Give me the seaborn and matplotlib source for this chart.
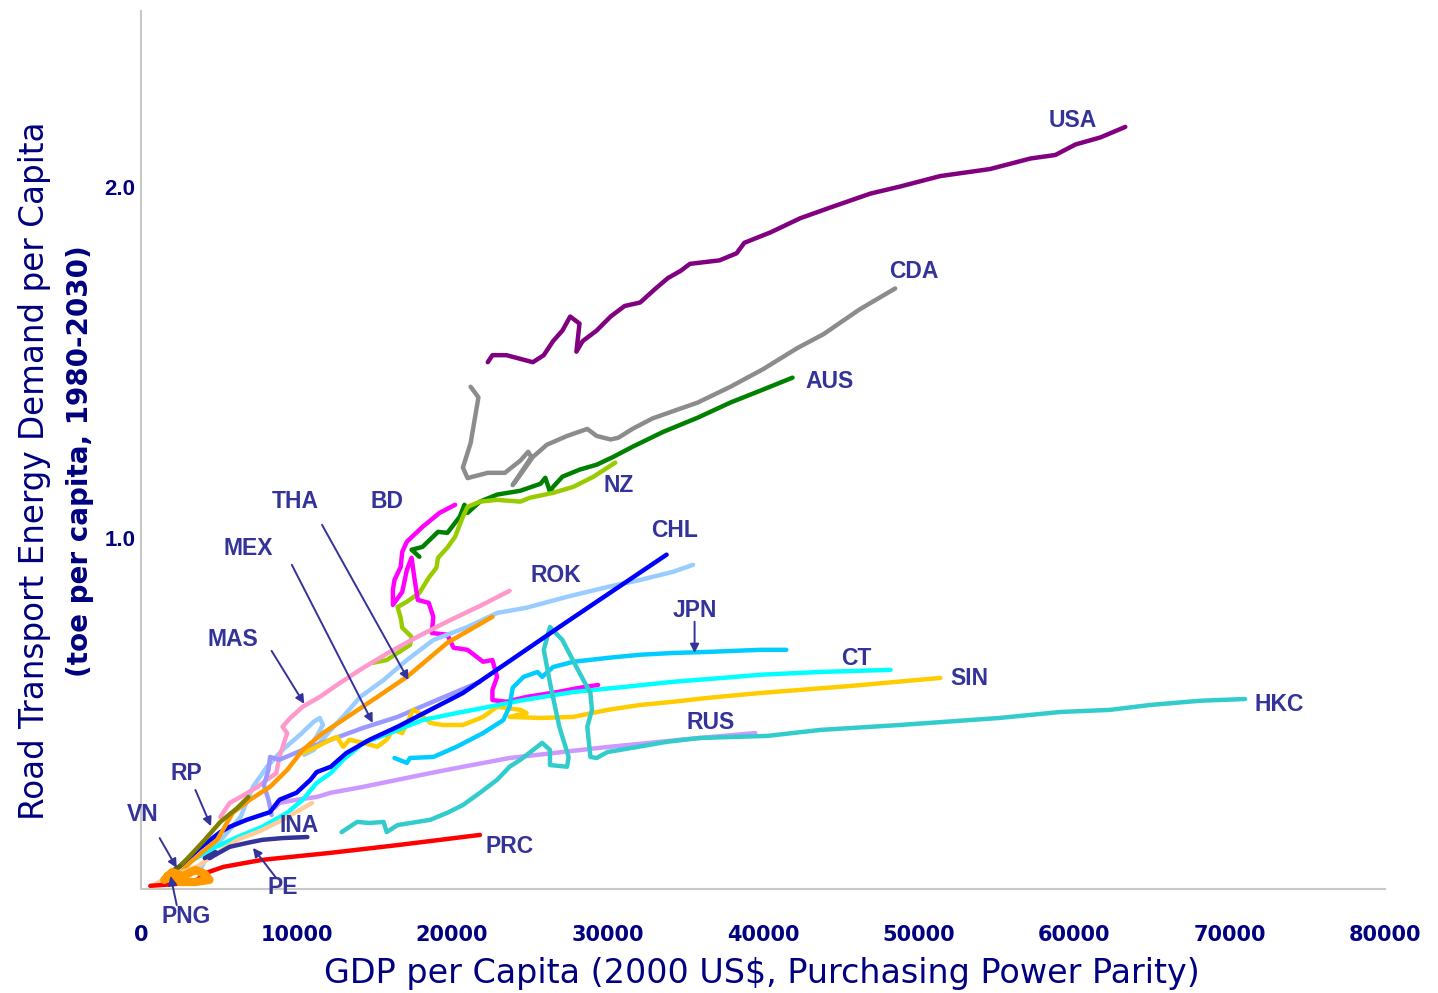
import numpy as np
import pandas as pd
import matplotlib
matplotlib.use("Agg")
import matplotlib.pyplot as plt
import seaborn as sns
from matplotlib import font_manager

# GDP per capita (2000 US$ PPP) and road transport energy demand (toe per capita)
usa_gdp = [22300, 22600, 23500, 25200, 25900, 26500, 27100, 27600, 28200, 28000, 28400, 29300, 30200, 31100, 32100, 33100, 33900, 34700, 35300, 37200, 38300, 38800, 40500, 42400, 44300, 46900, 48800, 51400, 54600, 57200, 58800, 60100, 61700, 63300]
usa_dem = [1.50, 1.52, 1.52, 1.50, 1.52, 1.56, 1.59, 1.63, 1.61, 1.53, 1.56, 1.59, 1.63, 1.66, 1.67, 1.71, 1.74, 1.76, 1.78, 1.79, 1.81, 1.84, 1.87, 1.91, 1.94, 1.98, 2.00, 2.03, 2.05, 2.08, 2.09, 2.12, 2.14, 2.17]

cda_gdp = [21200, 21700, 21200, 20700, 21000, 22300, 23400, 24400, 24900, 25100, 23900, 24400, 25200, 26100, 27400, 28700, 29300, 30200, 30700, 31600, 32900, 34500, 35800, 37900, 40000, 42200, 43900, 46200, 48500]
cda_dem = [1.43, 1.40, 1.27, 1.20, 1.17, 1.185, 1.185, 1.22, 1.245, 1.23, 1.15, 1.18, 1.23, 1.265, 1.29, 1.31, 1.29, 1.28, 1.285, 1.31, 1.34, 1.365, 1.385, 1.43, 1.48, 1.54, 1.58, 1.65, 1.71]

aus_gdp = [17900, 17400, 18100, 19100, 19700, 20500, 20800, 21000, 21800, 22900, 24400, 25700, 26000, 26300, 26500, 27100, 28200, 29300, 30400, 31600, 33600, 35800, 37900, 40000, 41900]
aus_dem = [0.946, 0.966, 0.974, 1.017, 1.014, 1.06, 1.094, 1.071, 1.103, 1.123, 1.134, 1.154, 1.171, 1.131, 1.145, 1.174, 1.194, 1.208, 1.231, 1.259, 1.302, 1.342, 1.385, 1.422, 1.456]

nz_gdp = [14900, 15800, 16500, 17300, 17400, 16800, 16700, 16500, 17100, 17900, 18500, 19000, 19100, 19700, 20200, 20700, 21000, 21800, 22900, 24400, 25000, 26500, 27800, 29100, 30500]
nz_dem = [0.644, 0.652, 0.672, 0.695, 0.718, 0.744, 0.772, 0.803, 0.818, 0.843, 0.886, 0.915, 0.943, 0.972, 1.003, 1.06, 1.088, 1.103, 1.108, 1.103, 1.114, 1.128, 1.145, 1.174, 1.214]

bd_gdp = [20200, 19200, 18100, 17100, 16800, 16700, 16300, 16200, 16200, 16800, 17100, 17400, 17600, 17800, 18500, 18800, 18700, 19700, 20100, 21000, 22000, 22600, 22900, 22600, 22600, 23500, 24800, 26800, 28200, 29400]
bd_dem = [1.094, 1.071, 1.031, 0.989, 0.960, 0.917, 0.880, 0.852, 0.809, 0.846, 0.909, 0.943, 0.880, 0.823, 0.815, 0.775, 0.729, 0.724, 0.687, 0.681, 0.647, 0.652, 0.604, 0.567, 0.538, 0.533, 0.547, 0.561, 0.573, 0.581]

rok_gdp = [3800, 3900, 4400, 5300, 6400, 7200, 8100, 9100, 10200, 11100, 11500, 11700, 11100, 10500, 11100, 12200, 13100, 14100, 15600, 17100, 18800, 21000, 22900, 24800, 27400, 30000, 32100, 34200, 35500]
rok_dem = [0.026, 0.063, 0.103, 0.148, 0.205, 0.291, 0.348, 0.396, 0.438, 0.476, 0.487, 0.467, 0.419, 0.382, 0.396, 0.453, 0.496, 0.547, 0.595, 0.652, 0.709, 0.746, 0.786, 0.801, 0.832, 0.860, 0.880, 0.903, 0.923]

mas_gdp = [5100, 5700, 6400, 7500, 8100, 8700, 8900, 9400, 9100, 9600, 10400, 11500, 12800, 14300, 16000, 17900, 19900, 21800, 23700]
mas_dem = [0.205, 0.245, 0.262, 0.291, 0.311, 0.330, 0.376, 0.444, 0.462, 0.487, 0.519, 0.547, 0.587, 0.630, 0.675, 0.721, 0.766, 0.806, 0.849]

mex_gdp = [8400, 8200, 7900, 8200, 8300, 8900, 10400, 12200, 14300, 16500, 18600, 21800]
mex_dem = [0.211, 0.254, 0.296, 0.339, 0.376, 0.368, 0.396, 0.425, 0.459, 0.49, 0.53, 0.59]

rus_gdp = [8600, 8900, 10000, 11300, 12200, 14300, 16500, 18600, 20700, 23700, 29500, 34700, 39500]
rus_dem = [0.231, 0.245, 0.254, 0.262, 0.274, 0.291, 0.311, 0.330, 0.348, 0.373, 0.402, 0.425, 0.444]

sin_gdp = [10400, 11300, 12200, 12600, 13000, 13400, 14300, 15200, 15800, 16200, 16800, 17500, 17900, 18600, 19400, 20700, 22000, 22900, 24400, 24800, 23700, 25700, 27800, 30000, 32100, 34200, 36400, 39800, 45600, 51400]
sin_dem = [0.387, 0.405, 0.425, 0.433, 0.405, 0.425, 0.416, 0.405, 0.425, 0.453, 0.444, 0.510, 0.501, 0.473, 0.467, 0.467, 0.490, 0.519, 0.510, 0.501, 0.490, 0.487, 0.490, 0.510, 0.524, 0.533, 0.544, 0.558, 0.578, 0.601]

ct_gdp = [2800, 4400, 6200, 7800, 9400, 10400, 11300, 12200, 13000, 14300, 16000, 18100, 20300, 22400, 24600, 27800, 31000, 34200, 37400, 39800, 43700, 48200]
ct_dem = [0.068, 0.111, 0.148, 0.177, 0.217, 0.254, 0.302, 0.330, 0.368, 0.416, 0.444, 0.481, 0.501, 0.519, 0.538, 0.561, 0.575, 0.590, 0.601, 0.610, 0.618, 0.624]

jpn_gdp = [16300, 17100, 17300, 18800, 20300, 22000, 23300, 23700, 23900, 24600, 25500, 25800, 26500, 27800, 30000, 32100, 34200, 36400, 39800, 41500]
jpn_dem = [0.373, 0.359, 0.373, 0.376, 0.405, 0.444, 0.481, 0.519, 0.573, 0.604, 0.618, 0.604, 0.632, 0.647, 0.658, 0.667, 0.672, 0.675, 0.681, 0.681]

hkc_gdp = [12900, 13900, 14700, 15600, 15800, 16500, 18600, 19700, 20700, 21800, 22900, 23700, 24400, 25800, 26300, 26300, 27400, 27500, 26900, 26300, 25900, 26300, 27100, 28000, 28900, 29000, 28700, 28900, 29300, 30000, 31600, 33800, 35900, 38100, 40300, 43700, 48800, 55200, 59100, 62300, 64900, 68100, 71000]
hkc_dem = [0.162, 0.191, 0.188, 0.191, 0.162, 0.182, 0.197, 0.217, 0.239, 0.274, 0.311, 0.348, 0.368, 0.416, 0.396, 0.353, 0.348, 0.376, 0.462, 0.587, 0.681, 0.746, 0.709, 0.632, 0.558, 0.510, 0.462, 0.376, 0.373, 0.390, 0.402, 0.419, 0.430, 0.433, 0.436, 0.453, 0.467, 0.487, 0.504, 0.510, 0.524, 0.536, 0.541]

chl_gdp = [2500, 3800, 5100, 5700, 6800, 8300, 8900, 10000, 10900, 11300, 12200, 13200, 14700, 16500, 18600, 20700, 27300, 33800]
chl_dem = [0.065, 0.117, 0.162, 0.177, 0.197, 0.219, 0.254, 0.274, 0.311, 0.333, 0.348, 0.387, 0.425, 0.462, 0.510, 0.558, 0.758, 0.952]

tha_gdp = [2200, 3200, 4100, 4900, 5900, 7000, 8300, 9400, 10400, 11700, 12800, 15200, 17100, 19700, 22600]
tha_dem = [0.031, 0.077, 0.111, 0.140, 0.217, 0.254, 0.291, 0.339, 0.396, 0.444, 0.476, 0.547, 0.604, 0.701, 0.775]

ina_gdp = [600, 1400, 2500, 3600, 4900, 6200, 7800, 9100, 10200, 11000]
ina_dem = [0.006, 0.026, 0.046, 0.063, 0.103, 0.140, 0.168, 0.197, 0.225, 0.245]

pe_gdp = [4100, 4800, 4400, 5700, 6800, 7800, 9100, 10700]
pe_dem = [0.088, 0.105, 0.088, 0.120, 0.131, 0.140, 0.145, 0.148]

prc_gdp = [600, 2200, 3600, 4200, 5300, 7800, 12200, 16500, 21800]
prc_dem = [0.009, 0.014, 0.026, 0.046, 0.063, 0.083, 0.103, 0.125, 0.154]

rp_gdp = [2400, 3200, 4100, 5100, 6200, 6900]
rp_dem = [0.060, 0.097, 0.140, 0.191, 0.231, 0.262]

vn_gdp = [1700, 2100, 2500]
vn_dem = [0.031, 0.054, 0.065]

png_gdp = [1500, 2000, 2700, 3500, 4100, 4400, 3500, 2500, 1700]
png_dem = [0.026, 0.048, 0.037, 0.054, 0.043, 0.026, 0.020, 0.020, 0.037]

series = [
    ("USA", usa_gdp, usa_dem, "#800080"),
    ("CDA", cda_gdp, cda_dem, "#8c8c8c"),
    ("AUS", aus_gdp, aus_dem, "#008000"),
    ("NZ", nz_gdp, nz_dem, "#99cc00"),
    ("BD", bd_gdp, bd_dem, "#ff00ff"),
    ("ROK", rok_gdp, rok_dem, "#99ccff"),
    ("MAS", mas_gdp, mas_dem, "#ff99cc"),
    ("MEX", mex_gdp, mex_dem, "#9999ff"),
    ("RUS", rus_gdp, rus_dem, "#cc99ff"),
    ("SIN", sin_gdp, sin_dem, "#ffcc00"),
    ("CT", ct_gdp, ct_dem, "#00ffff"),
    ("JPN", jpn_gdp, jpn_dem, "#00ccff"),
    ("HKC", hkc_gdp, hkc_dem, "#33cccc"),
    ("CHL", chl_gdp, chl_dem, "#0000ff"),
    ("THA", tha_gdp, tha_dem, "#ff9900"),
    ("INA", ina_gdp, ina_dem, "#ffcc99"),
    ("PE", pe_gdp, pe_dem, "#333399"),
    ("PRC", prc_gdp, prc_dem, "#ff0000"),
    ("RP", rp_gdp, rp_dem, "#808000"),
    ("VN", vn_gdp, vn_dem, "#666600"),
    ("PNG", png_gdp, png_dem, "#ff9900"),
]

# label positions (text centre) and arrows (tail -> head)
label_names = ["USA", "CDA", "AUS", "NZ", "BD", "THA", "MEX", "CHL", "ROK", "JPN", "MAS", "CT", "SIN", "HKC", "RUS", "RP", "VN", "INA", "PRC", "PE", "PNG"]
label_x = [59900, 49700, 44300, 30700, 15800, 9900, 6900, 34300, 26700, 35600, 5900, 46000, 53300, 73200, 36600, 2900, 100, 10200, 23700, 9100, 2900]
label_y = [2.188, 1.758, 1.444, 1.148, 1.103, 1.103, 0.969, 1.020, 0.892, 0.792, 0.709, 0.655, 0.598, 0.524, 0.473, 0.330, 0.211, 0.182, 0.120, 0.003, -0.077]

arrow_tail_x = [11640, 9700, 8400, 3500, 1200, 2300, 8700, 35600]
arrow_tail_y = [1.037, 0.923, 0.678, 0.282, 0.145, -0.046, 0.031, 0.761]
arrow_head_x = [17200, 14900, 10500, 4500, 2300, 1900, 7200, 35600]
arrow_head_y = [0.595, 0.473, 0.527, 0.179, 0.060, 0.037, 0.117, 0.672]

names = {f.name for f in font_manager.fontManager.ttflist}
narrow = "Liberation Sans Narrow" if "Liberation Sans Narrow" in names else (
    "DejaVu Sans Condensed" if "DejaVu Sans Condensed" in names else "DejaVu Sans")

sns.set_style("white")
plt.rcParams["font.family"] = ["Liberation Sans", "DejaVu Sans"]

fig = plt.figure(figsize=(14.38, 9.93), dpi=100)
ax = fig.add_axes([141 / 1438, 104 / 993, 1244 / 1438, 878 / 993])

for name, gx, gy, col in series:
    lw = 6 if name == "PNG" else 3.2
    sns.lineplot(x=gx, y=gy, color=col, linewidth=lw, sort=False, estimator=None,
                 ax=ax, solid_capstyle="round", solid_joinstyle="round")

navy_lbl = "#333399"
for tx, ty, hx, hy in zip(arrow_tail_x, arrow_tail_y, arrow_head_x, arrow_head_y):
    ax.annotate("", xy=(hx, hy), xytext=(tx, ty), annotation_clip=False,
                arrowprops=dict(arrowstyle="-|>", color=navy_lbl, lw=1.4,
                                mutation_scale=13, shrinkA=0, shrinkB=0))

for n, lx, ly in zip(label_names, label_x, label_y):
    ax.text(lx, ly, n, color=navy_lbl, fontsize=16.5, fontweight="bold",
            ha="center", va="center", clip_on=False)

ax.set_xlim(0, 80000)
ax.set_ylim(0, 2.5)
ax.set_xticks(np.arange(0, 80001, 10000))
ax.set_xticklabels([str(v) for v in range(0, 80001, 10000)])
ax.set_yticks(np.arange(0, 2.51, 0.5))
ax.set_yticklabels(["", "", "1.0", "", "2.0", ""])

for s in ["top", "right"]:
    ax.spines[s].set_visible(False)
for s in ["left", "bottom"]:
    ax.spines[s].set_color("#c8c8c8")
    ax.spines[s].set_linewidth(1.5)

ax.tick_params(axis="both", direction="in", color="#c8c8c8", length=8, width=1.2)
ax.tick_params(axis="x", pad=26, labelcolor="#000080")
ax.tick_params(axis="y", pad=4, labelcolor="#000080")
for t in ax.get_xticklabels():
    t.set_family([narrow, "DejaVu Sans"])
    t.set_fontweight("bold")
    t.set_fontsize(15)
for t in ax.get_yticklabels():
    t.set_fontweight("bold")
    t.set_fontsize(16)

ax.set_xlabel("")
ax.set_ylabel("")
fig.text(762 / 1438, 1 - 973 / 993, "GDP per Capita (2000 US$, Purchasing Power Parity)",
         color="#000080", fontsize=24, family=[narrow, "DejaVu Sans"],
         ha="center", va="center")
fig.text(35 / 1438, 1 - 471 / 993, "Road Transport Energy Demand per Capita",
         color="#000080", fontsize=23.5, family=[narrow, "DejaVu Sans"],
         rotation=90, ha="center", va="center")
fig.text(80 / 1438, 1 - 461 / 993, "(toe per capita, 1980-2030)",
         color="#000080", fontsize=20, fontweight="bold", family=[narrow, "DejaVu Sans"],
         rotation=90, ha="center", va="center")

fig.savefig("out.png", dpi=100)
